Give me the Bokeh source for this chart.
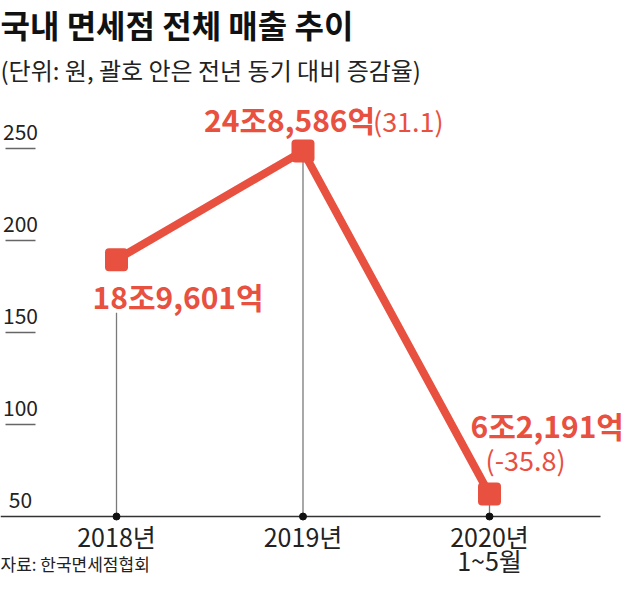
from bokeh.plotting import figure
from bokeh.models import ColumnDataSource, Label
from bokeh.core.properties import value
from bokeh.embed import file_html
from bokeh.resources import INLINE

# ---- data ----
categories = ["2018년", "2019년", "2020년\n1~5월"]
sales = [189.601, 248.586, 62.191]          # 단위: 천억원 (18조9,601억 -> 189.601)
value_labels = ["18조9,601억", "24조8,586억", "6조2,191억"]
change_labels = ["", "(31.1)", "(-35.8)"]
y_ticks = [50, 100, 150, 200, 250]
y_tick_labels = ["50", "100", "150", "200", "250"]

title = "국내 면세점 전체 매출 추이"
subtitle = "(단위: 원, 괄호 안은 전년 동기 대비 증감율)"
source_text = "자료: 한국면세점협회"

# ---- style / layout ----
RED = "#E8503F"
FONT = "Noto Sans CJK KR"
W, H = 624, 578
BASE = 50
FIRST_X = 116.0      # px of first category
STEP_X = 186.5       # px between categories
BASE_Y = 516.0       # px (from top) of the baseline
PX_PER_UNIT = 1.84   # vertical px per value unit

X0 = -FIRST_X / STEP_X
X1 = (W - FIRST_X) / STEP_X
Y1 = BASE + BASE_Y / PX_PER_UNIT
Y0 = BASE - (H - BASE_Y) / PX_PER_UNIT


def px_to_x(px):
    return (px - FIRST_X) / STEP_X


xs = list(range(len(categories)))
cat_line1 = [c.split("\n")[0] for c in categories]
cat_line2 = [c.split("\n")[1] if "\n" in c else "" for c in categories]

p = figure(width=W, height=H, x_range=(X0, X1), y_range=(Y0, Y1),
           output_backend="svg", toolbar_location=None,
           x_axis_location=None, y_axis_location=None,
           min_border=0, outline_line_color=None)
p.grid.visible = False
p.background_fill_color = "white"
p.border_fill_color = "white"

# label offsets (screen px) relative to the data point
val_dx = [-24, -99, -19]
val_dy = [36, -32, -69]
chg_dx = [0, 70, -4]
chg_dy = [0, -31, -35]
below = [True, False, False]

# stems from baseline to point (stop under the label when it sits below)
stem_top = [v - (53 / PX_PER_UNIT) if b else v for v, b in zip(sales, below)]
p.segment(x0=xs, y0=[BASE] * 3, x1=xs, y1=stem_top, line_color="#7a7a7a", line_width=1.3)

# baseline
p.segment(x0=[px_to_x(0)], y0=[BASE], x1=[px_to_x(600)], y1=[BASE],
          line_color="#333333", line_width=1.5)

# y tick labels with short underlines
p.text(x=[px_to_x(20)] * len(y_ticks), y=y_ticks, text=y_tick_labels,
       text_align="center", text_baseline="middle", y_offset=-17,
       text_font=value(FONT), text_font_size="21px", text_color="#222222")
ul_y = [t for t in y_ticks if t != BASE]
p.segment(x0=[px_to_x(5)] * len(ul_y), y0=ul_y, x1=[px_to_x(35)] * len(ul_y), y1=ul_y,
          line_color="#666666", line_width=1.5)

# baseline dots
p.scatter(xs, [BASE] * 3, size=7, color="#111111")

# line + markers
p.line(xs, sales, line_width=8, line_color=RED, line_join="round")
p.rect(xs, sales, width=23, height=23, width_units="screen", height_units="screen",
       fill_color=RED, line_color=None, border_radius=4)

# value labels
src_v = ColumnDataSource(dict(x=xs, y=sales, t=value_labels, dx=val_dx, dy=val_dy))
p.text(x="x", y="y", text="t", x_offset="dx", y_offset="dy", source=src_v,
       text_align="left", text_baseline="middle",
       text_font=value(FONT), text_font_style="bold", text_font_size="30px",
       text_color=RED)
src_c = ColumnDataSource(dict(x=xs, y=sales, t=change_labels, dx=chg_dx, dy=chg_dy))
p.text(x="x", y="y", text="t", x_offset="dx", y_offset="dy", source=src_c,
       text_align="left", text_baseline="middle",
       text_font=value(FONT), text_font_size="27px", text_color=RED)

# category labels (two lines)
p.text(x=xs, y=[BASE] * 3, text=cat_line1, text_align="center", text_baseline="middle",
       y_offset=19, text_font=value(FONT), text_font_size="25px", text_color="#222222")
p.text(x=xs, y=[BASE] * 3, text=cat_line2, text_align="center", text_baseline="middle",
       y_offset=43, text_font=value(FONT), text_font_size="25px", text_color="#222222")

# title / subtitle / source
p.add_layout(Label(x=0, y=H - 23.5, x_units="screen", y_units="screen", text=title,
                   text_font=FONT, text_font_style="bold", text_font_size="32px",
                   text_baseline="middle", text_color="#111111"))
p.add_layout(Label(x=0, y=H - 68.5, x_units="screen", y_units="screen", text=subtitle,
                   text_font=FONT, text_font_size="24px",
                   text_baseline="middle", text_color="#222222"))
p.add_layout(Label(x=0, y=H - 563, x_units="screen", y_units="screen", text=source_text,
                   text_font=FONT, text_font_size="17px",
                   text_baseline="middle", text_color="#222222"))

open("out.html", "w").write(file_html(p, INLINE))
